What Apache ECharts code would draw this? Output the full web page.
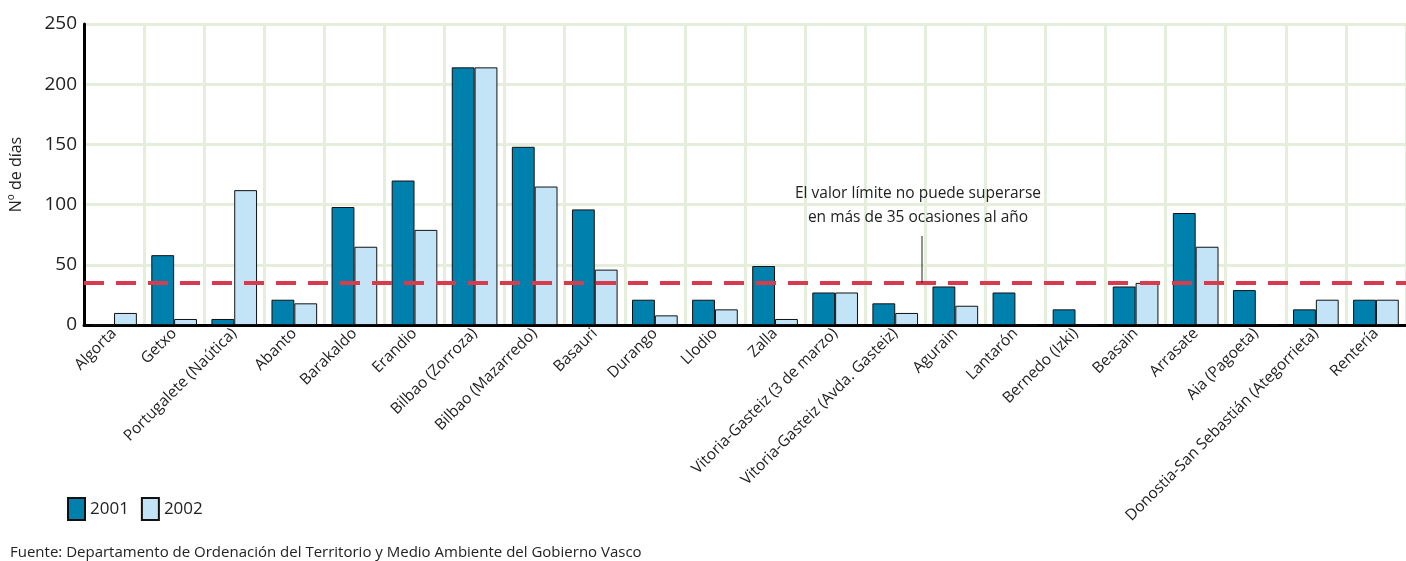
<!DOCTYPE html>
<html>
<head>
<meta charset="utf-8">
<script src="https://cdn.jsdelivr.net/npm/echarts@6/dist/echarts.min.js"></script>
<style>
  html, body { margin: 0; padding: 0; background: #fff; }
  #chart { width: 1406px; height: 561px; }
</style>
</head>
<body>
<div id="chart"></div>
<script>
  // estaciones
  var estaciones = ['Algorta', 'Getxo', 'Portugalete (Naútica)', 'Abanto', 'Barakaldo', 'Erandio',
    'Bilbao (Zorroza)', 'Bilbao (Mazarredo)', 'Basauri', 'Durango', 'Llodio', 'Zalla',
    'Vitoria-Gasteiz (3 de marzo)', 'Vitoria-Gasteiz (Avda. Gasteiz)', 'Agurain', 'Lantarón',
    'Bernedo (Izki)', 'Beasain', 'Arrasate', 'Aia (Pagoeta)', 'Donostia-San Sebastián (Ategorrieta)', 'Rentería']
  // nº de días por año
  var dias2001 = [0, 58, 5, 21, 98, 120, 214, 148, 96, 21, 21, 49, 27, 18, 32, 27, 13, 32, 93, 29, 13, 21]
  var dias2002 = [10, 5, 112, 18, 65, 79, 214, 115, 46, 8, 13, 5, 27, 10, 16, 0, 0, 35, 65, 0, 21, 21]
  var valorLimite = 35
  var yTicks = [0, 50, 100, 150, 200, 250]

  var fuente = 'Open Sans, Noto Sans, sans-serif'
  var myChart = echarts.init(document.getElementById('chart'))
  var option = {
    animation: false,
    textStyle: {fontFamily: fuente, color: '#222'},
    grid: {left: 83, right: 0, top: 24, bottom: 236},
    legend: {
      left: 62,
      top: 492,
      itemWidth: 17,
      itemHeight: 22,
      itemGap: 12,
      icon: 'rect',
      textStyle: {fontSize: 17, color: '#222', fontFamily: fuente},
      data: ['2001', '2002']
    },
    xAxis: {
      type: 'category',
      data: estaciones,
      axisLine: {lineStyle: {color: '#000', width: 3}},
      axisTick: {show: false},
      splitLine: {show: true, lineStyle: {color: '#e4eedb', width: 3}},
      axisLabel: {
        rotate: 45,
        interval: 0,
        fontSize: 15.5,
        color: '#222',
        margin: 6
      }
    },
    yAxis: {
      type: 'value',
      min: yTicks[0],
      max: yTicks[yTicks.length - 1],
      interval: 50,
      name: 'Nº de días',
      nameLocation: 'middle',
      nameGap: 60,
      nameTextStyle: {fontSize: 16, color: '#222'},
      axisLine: {show: true, lineStyle: {color: '#000', width: 3}},
      axisTick: {show: false},
      splitLine: {lineStyle: {color: '#e4eedb', width: 3}},
      axisLabel: {fontSize: 19, color: '#222', margin: 7}
    },
    series: [
      {
        name: '2001',
        type: 'bar',
        data: dias2001,
        barGap: '0%',
        barCategoryGap: '24%',
        itemStyle: {color: '#0081ad', borderColor: '#111', borderWidth: 1},
        markLine: {
          silent: true,
          symbol: 'none',
          label: {show: false},
          lineStyle: {color: '#d63c4e', type: [20, 12], width: 4},
          data: [{yAxis: valorLimite}]
        }
      },
      {
        name: '2002',
        type: 'bar',
        data: dias2002,
        itemStyle: {color: '#c3e4f7', borderColor: '#111', borderWidth: 1}
      }
    ],
    graphic: [
      {
        type: 'text',
        x: 918,
        y: 182,
        z: 100,
        style: {
          text: 'El valor límite no puede superarse\nen más de 35 ocasiones al año',
          align: 'center',
          fontSize: 15.5,
          lineHeight: 24,
          fill: '#222',
          fontFamily: fuente
        }
      },
      {
        type: 'line',
        z: 100,
        shape: {x1: 922, y1: 236, x2: 922, y2: 283},
        style: {stroke: '#222', lineWidth: 1}
      },
      {
        type: 'text',
        x: 10,
        y: 545,
        z: 100,
        style: {
          text: 'Fuente: Departamento de Ordenación del Territorio y Medio Ambiente del Gobierno Vasco',
          fontSize: 15,
          fill: '#222',
          fontFamily: fuente
        }
      }
    ]
  }
  myChart.setOption(option, true)
</script>
</body>
</html>
